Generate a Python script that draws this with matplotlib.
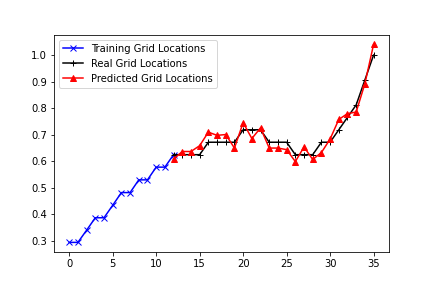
import matplotlib
matplotlib.use("Agg")
import matplotlib.pyplot as plt

# training part (grid positions 0..12)
train_x = list(range(0, 13))
train_y = [0.293, 0.293, 0.339, 0.386, 0.386, 0.433, 0.481, 0.481,
           0.529, 0.529, 0.577, 0.577, 0.624]

# test part (grid positions 12..35)
test_x = list(range(12, 36))
real_y = [0.624, 0.624, 0.624, 0.624, 0.671, 0.671, 0.671, 0.671,
          0.718, 0.718, 0.718, 0.671, 0.671, 0.671, 0.624, 0.624,
          0.624, 0.671, 0.671, 0.718, 0.765, 0.812, 0.906, 1.0]
pred_y = [0.607, 0.636, 0.636, 0.658, 0.709, 0.697, 0.700, 0.649,
          0.745, 0.685, 0.725, 0.649, 0.649, 0.643, 0.598, 0.653,
          0.606, 0.632, 0.683, 0.757, 0.779, 0.785, 0.892, 1.04]

fig = plt.figure(figsize=(6, 4), dpi=72)
fig.subplots_adjust(bottom=0.124)
plt.plot(train_x, train_y, 'bx-', label='Training Grid Locations')
plt.plot(test_x, real_y, 'k+-', label='Real Grid Locations')
plt.plot(test_x, pred_y, 'r^-', label='Predicted Grid Locations')
plt.legend(loc='upper left')

plt.savefig('out.png')
